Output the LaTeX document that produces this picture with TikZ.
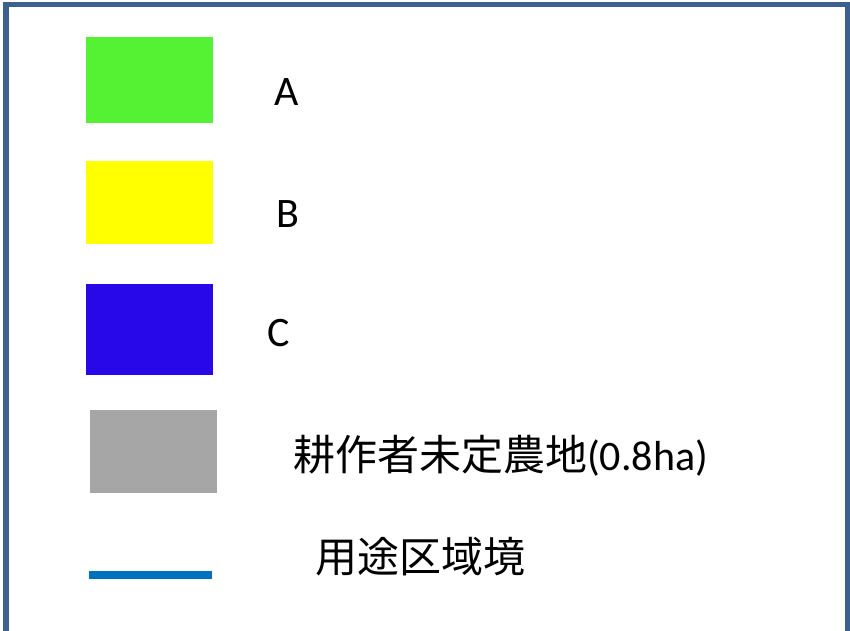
\documentclass[tikz,border=0pt]{standalone}
\usepackage{fontspec}
\setmainfont{Carlito}
\newfontfamily\jpfont{Noto Sans CJK JP}
\usetikzlibrary{positioning}
\definecolor{framecol}{RGB}{60,97,145}
\definecolor{greencol}{RGB}{85,242,51}
\definecolor{yellowcol}{RGB}{255,255,0}
\definecolor{bluecol}{RGB}{40,8,232}
\definecolor{greycol}{RGB}{166,166,166}
\definecolor{linecol}{RGB}{0,112,192}

\begin{document}
\begin{tikzpicture}[x=1pt,y=-1pt,
                    swatch/.style={inner sep=0pt,minimum width=127pt,anchor=north west},
                    legtext/.style={inner sep=0pt,anchor=base west,font=\fontsize{42}{50}\selectfont}]

  \useasboundingbox (0,0) rectangle (850,630);
  \draw[framecol,line width=5.5pt] (6,700) -- (6,4.5) -- (847.5,4.5) -- (847.5,700);

  \node[swatch,fill=greencol,minimum height=86pt]  (A)  at (86,37)  {};
  \node[swatch,fill=yellowcol,minimum height=83pt] (B)  at (86,161) {};
  \node[swatch,fill=bluecol,minimum height=91pt]   (C)  at (86,284) {};
  \node[swatch,fill=greycol,minimum height=83pt]   (D)  at (90,410) {};

  \coordinate (E1) at (89,575);
  \coordinate (E2) at (212,575);
  \draw[linecol,line width=8pt] (E1) -- (E2);

  \node[legtext] (tA) at (274,105)   {A};
  \node[legtext] (tB) at (276,227)   {B};
  \node[legtext] (tC) at (267,346.5) {C};
  \node[legtext] (tD) at (293,470)   {\jpfont 耕作者未定農地\normalfont(0.8ha)};
  \node[legtext] (tE) at (315,572)   {\jpfont 用途区域境};
\end{tikzpicture}
\end{document}
